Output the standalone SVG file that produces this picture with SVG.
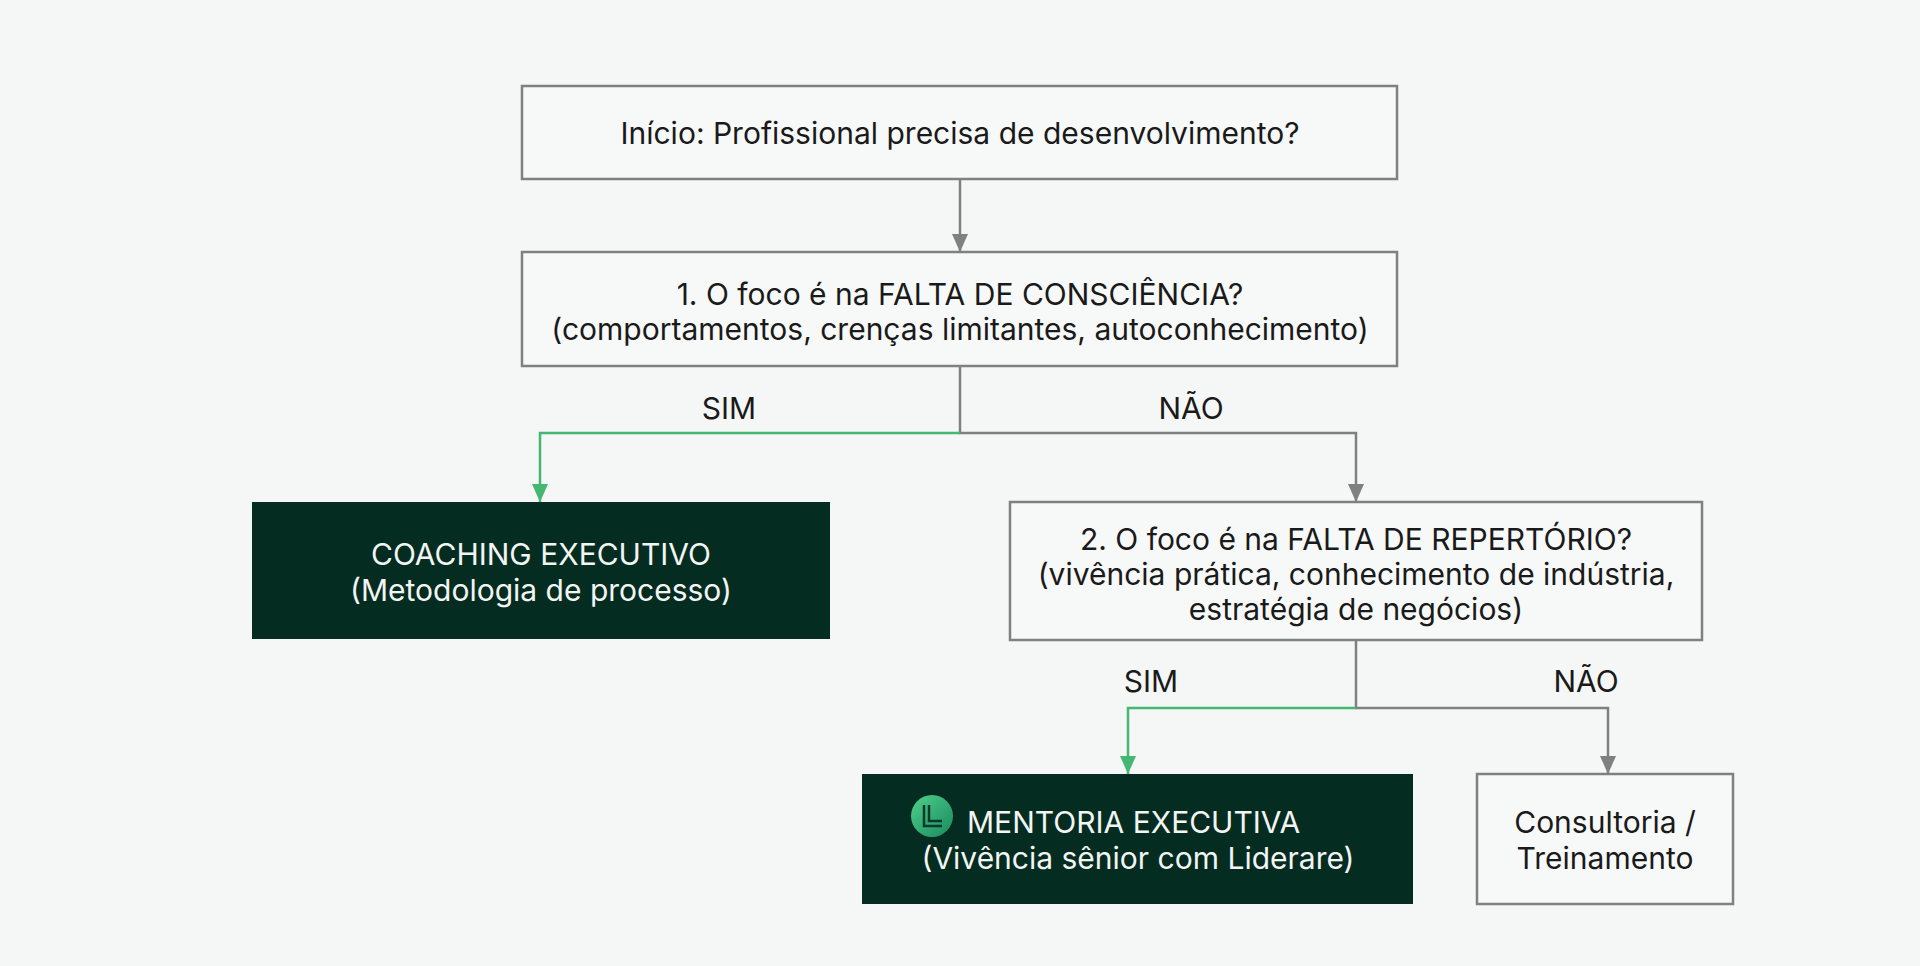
<svg xmlns="http://www.w3.org/2000/svg" width="1920" height="966" viewBox="0 0 1920 966">
<defs>
<style>
.box{fill:#f7f8f8;stroke:#808080;stroke-width:2.5}
.dark{fill:#052c20}
.t{font-family:Inter,"Noto Sans",sans-serif;font-size:30px;fill:#1a1a1a;text-anchor:middle;dominant-baseline:central}
.w{fill:#f2f5f3}
.g{fill:none;stroke:#808080;stroke-width:2.5}
.gr{fill:none;stroke:#44b872;stroke-width:2.5}
</style>
<marker id="ag" markerWidth="18" markerHeight="16" refX="18" refY="8" orient="auto" markerUnits="userSpaceOnUse" viewBox="0 0 18 16"><path d="M0,0 L18,8 L0,16z" fill="#808080"/></marker>
<marker id="agr" markerWidth="18" markerHeight="16" refX="18" refY="8" orient="auto" markerUnits="userSpaceOnUse" viewBox="0 0 18 16"><path d="M0,0 L18,8 L0,16z" fill="#44b872"/></marker>
<linearGradient id="lg" x1="0" y1="0" x2="1" y2="1"><stop offset="0" stop-color="#4fd08a"/><stop offset="1" stop-color="#1a8a60"/></linearGradient>
</defs>
<rect width="1920" height="966" fill="#f5f6f6"/>
<g id="connectors">
<path class="g" d="M960,179 V252" marker-end="url(#ag)"/>
<path class="g" d="M960,366 V433 H1356 V502" marker-end="url(#ag)"/>
<path class="gr" d="M960,433 H540 V502" marker-end="url(#agr)"/>
<path class="g" d="M1356,640 V708 H1608 V774" marker-end="url(#ag)"/>
<path class="gr" d="M1356,708 H1128 V774" marker-end="url(#agr)"/>
<text class="t" x="729" y="408">SIM</text>
<text class="t" x="1191" y="408">NÃO</text>
<text class="t" x="1151" y="681">SIM</text>
<text class="t" x="1586" y="681">NÃO</text>
</g>
<g id="inicio"><rect class="box" x="522" y="86" width="875" height="93"/><text class="t" x="960" y="133">Início: Profissional precisa de desenvolvimento?</text></g>
<g id="q1"><rect class="box" x="522" y="252" width="875" height="114"/><text class="t" x="960" y="294">1. O foco é na FALTA DE CONSCIÊNCIA?</text><text class="t" x="960" y="329">(comportamentos, crenças limitantes, autoconhecimento)</text></g>
<g id="coaching"><rect class="dark" x="252" y="502" width="578" height="137"/><text class="t w" x="541" y="554">COACHING EXECUTIVO</text><text class="t w" x="541" y="590">(Metodologia de processo)</text></g>
<g id="q2"><rect class="box" x="1010" y="502" width="692" height="138"/><text class="t" x="1356" y="539">2. O foco é na FALTA DE REPERTÓRIO?</text><text class="t" x="1356" y="574">(vivência prática, conhecimento de indústria,</text><text class="t" x="1356" y="609">estratégia de negócios)</text></g>
<g id="mentoria"><rect class="dark" x="862" y="774" width="551" height="130"/><circle cx="932" cy="816" r="21" fill="url(#lg)"/><path d="M924,805 V826 H942 M929,805 V821 H942" fill="none" stroke="#0b3a28" stroke-width="2.5"/><text class="t w" x="967" y="822" style="text-anchor:start">MENTORIA EXECUTIVA</text><text class="t w" x="1138" y="858">(Vivência sênior com Liderare)</text></g>
<g id="consultoria"><rect class="box" x="1477" y="774" width="256" height="130"/><text class="t" x="1605" y="822">Consultoria /</text><text class="t" x="1605" y="858">Treinamento</text></g>
</svg>
